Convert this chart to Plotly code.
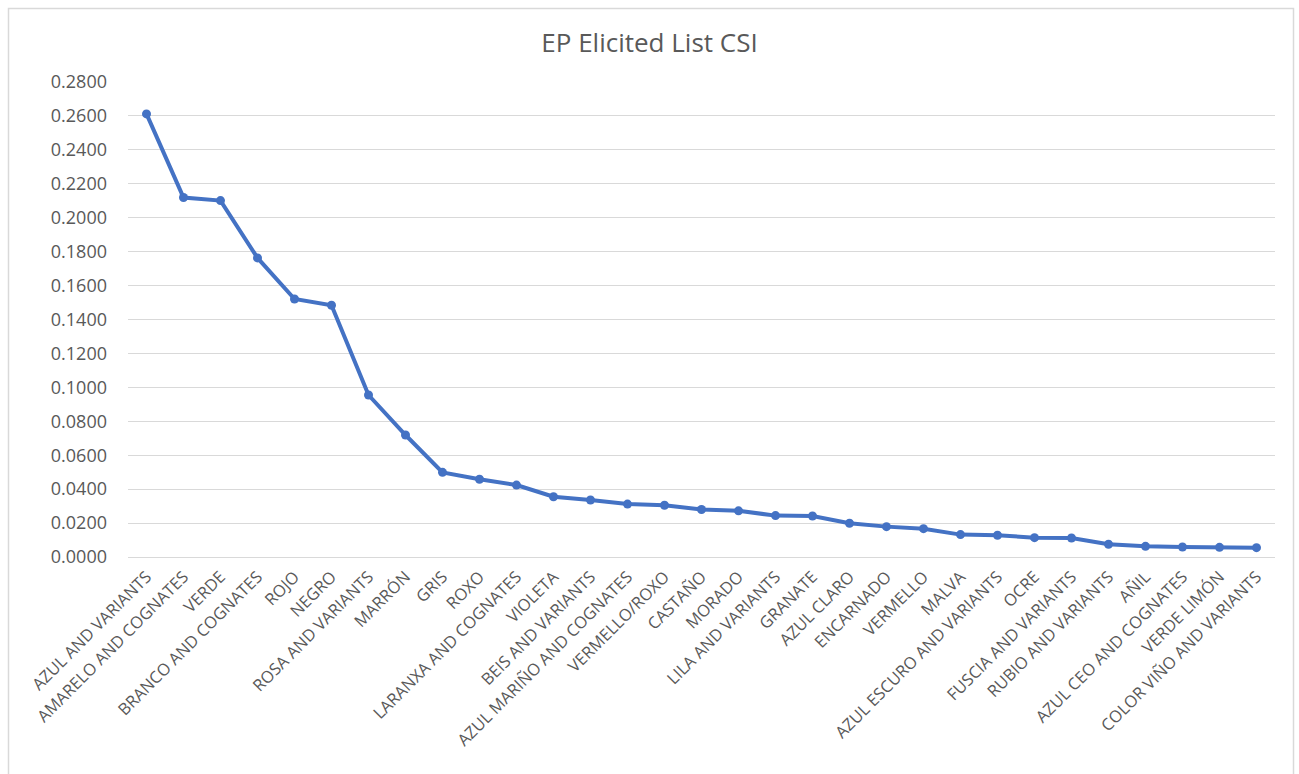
import plotly.graph_objects as go

# Color terms and their cognitive salience index (CSI)
categories = [
    "AZUL AND VARIANTS", "AMARELO AND COGNATES", "VERDE", "BRANCO AND COGNATES",
    "ROJO", "NEGRO", "ROSA AND VARIANTS", "MARRÓN", "GRIS", "ROXO",
    "LARANXA AND COGNATES", "VIOLETA", "BEIS AND VARIANTS", "AZUL MARIÑO AND COGNATES",
    "VERMELLO/ROXO", "CASTAÑO", "MORADO", "LILA AND VARIANTS", "GRANATE",
    "AZUL CLARO", "ENCARNADO", "VERMELLO", "MALVA", "AZUL ESCURO AND VARIANTS",
    "OCRE", "FUSCIA AND VARIANTS", "RUBIO AND VARIANTS", "AÑIL",
    "AZUL CEO AND COGNATES", "VERDE LIMÓN", "COLOR VIÑO AND VARIANTS",
]
csi = [
    0.2612, 0.2119, 0.2101, 0.1763, 0.1521, 0.1484, 0.0955, 0.0719, 0.0499, 0.0458,
    0.0424, 0.0355, 0.0336, 0.0312, 0.0305, 0.0280, 0.0272, 0.0244, 0.0242, 0.0199,
    0.0179, 0.0167, 0.0132, 0.0128, 0.0114, 0.0112, 0.0075, 0.0063, 0.0059, 0.0057,
    0.0055,
]
y_ticks = [i * 0.02 for i in range(15)]
y_tick_labels = [f"{v:.4f}" for v in y_ticks]

W, H = 1299, 774
L, R, T, B = 128, 24, 82, 217
pw, ph = W - L - R, H - T - B

fig = go.Figure()
fig.add_trace(go.Scatter(
    x=categories, y=csi, mode="lines+markers",
    line=dict(color="#4472C4", width=4),
    marker=dict(color="#4472C4", size=9),
    hoverinfo="x+y", showlegend=False,
))

# Outer chart frame
fig.add_shape(
    type="rect", xref="paper", yref="paper",
    x0=(8.5 - L) / pw, x1=(1293.5 - L) / pw,
    y0=-(H + 20 - T - ph) / ph, y1=(H - 8.5 - B) / ph,
    line=dict(color="#D9D9D9", width=1.5), layer="below",
)

fig.update_layout(
    width=W, height=H,
    margin=dict(l=L, r=R, t=T, b=B, autoexpand=False),
    paper_bgcolor="white", plot_bgcolor="white",
    font=dict(family="Open Sans, Noto Sans, sans-serif", color="#595959"),
    title=dict(
        text="EP Elicited List CSI", x=0.5, xref="container", xanchor="center",
        y=1 - 43 / H, yref="container", yanchor="middle",
        font=dict(size=26, color="#595959"),
    ),
    xaxis=dict(
        type="category", tickangle=-45, showgrid=False, zeroline=False,
        showline=False, ticks="", tickfont=dict(size=16.5, color="#595959"),
        range=[-0.5, len(categories) - 0.5], ticklabelstandoff=6,
    ),
    yaxis=dict(
        range=[0, 0.28], tickvals=y_ticks, ticktext=y_tick_labels,
        showgrid=True, gridcolor="#D9D9D9", gridwidth=1.2, zeroline=True,
        zerolinecolor="#D9D9D9", zerolinewidth=1.2, showline=False, ticks="",
        tickfont=dict(size=18, color="#595959"), ticklabelstandoff=20,
    ),
)

fig.write_html("out.html")
